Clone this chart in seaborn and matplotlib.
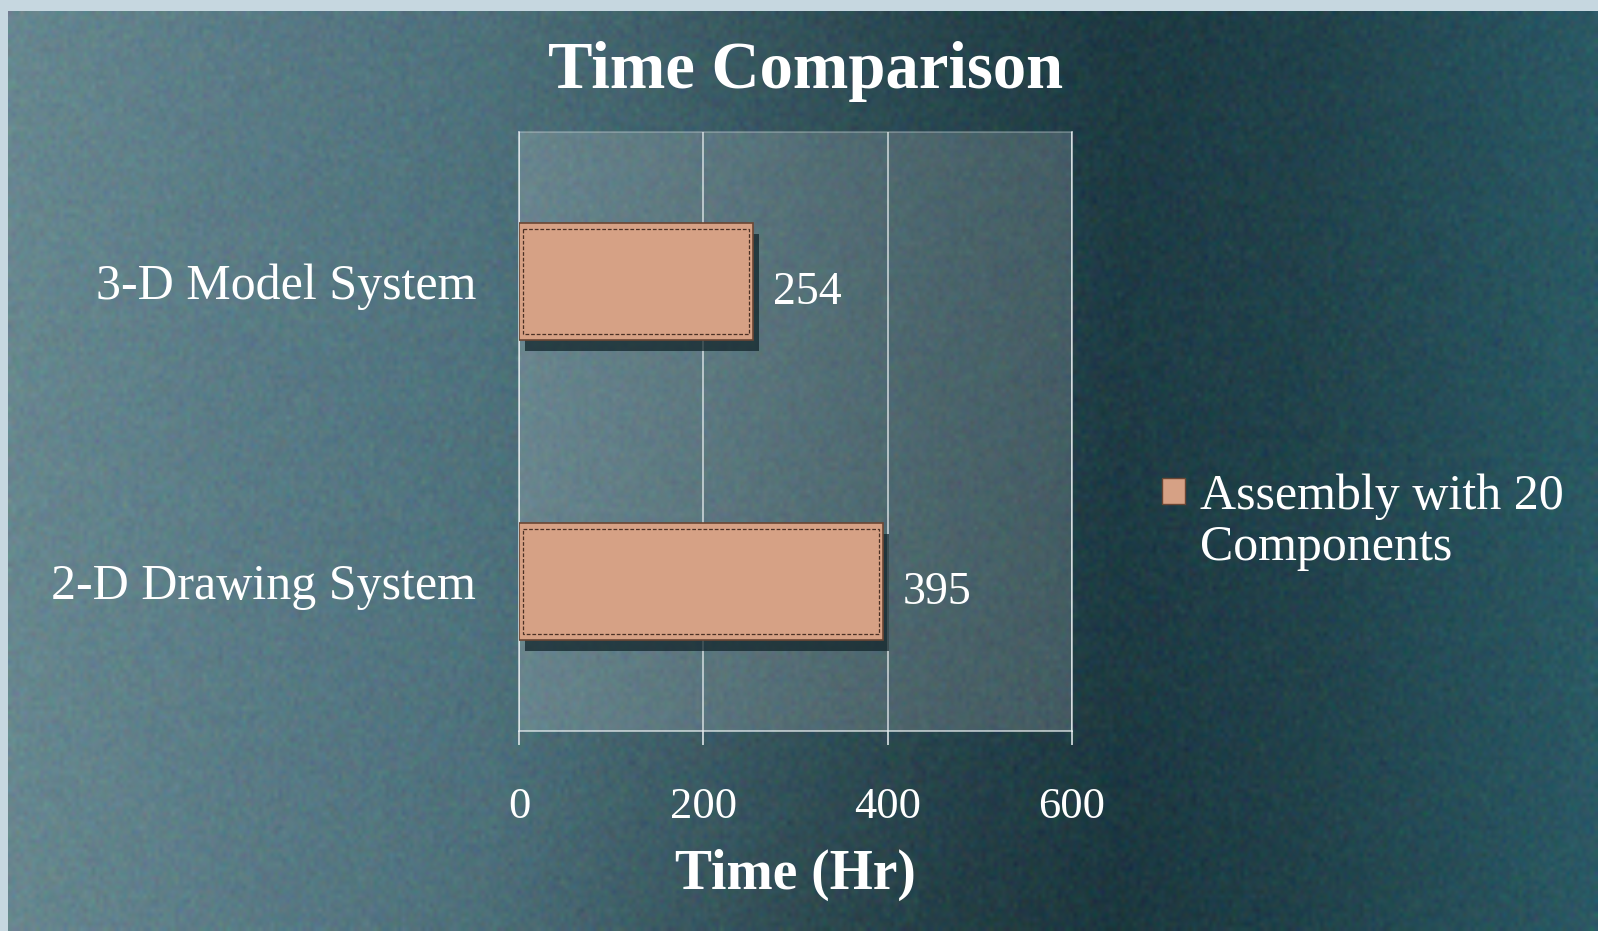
import numpy as np
import pandas as pd
import matplotlib
matplotlib.use("Agg")
import matplotlib.pyplot as plt
import matplotlib.patches as mpatches
import matplotlib.patheffects as pe
from matplotlib.colors import to_rgb
from matplotlib.legend_handler import HandlerPatch
import seaborn as sns

# ---- data ----
categories = ["3-D Model System", "2-D Drawing System"]
hours = [254, 395]
series_name = "Assembly with 20\nComponents"
x_ticks = [0, 200, 400, 600]
title_text = "Time Comparison"
x_label = "Time (Hr)"

df = pd.DataFrame({"System": categories, "Hours": hours})

sns.set_theme(style="white")
plt.rcParams["font.family"] = ["Liberation Serif", "DejaVu Serif"]

W_PX, H_PX = 1598, 931
fig = plt.figure(figsize=(W_PX / 100, H_PX / 100), dpi=100, facecolor="#c6d7e0")

# ---- textured teal background ----
bg = fig.add_axes([8 / W_PX, 0, 1 - 8 / W_PX, 1 - 11 / H_PX], zorder=-10)
GW, GH = 400, 200
gx = np.linspace(0, 1, GW)
gy = np.linspace(0, 1, GH)
stops_x = [0.0, 0.15, 0.30, 0.45, 0.60, 0.70, 0.82, 1.0]
stops_c = ["#67878f", "#5a7b86", "#50737e", "#3f616b", "#2a4a53", "#1f3d46", "#22434c", "#2b5964"]
cols = np.array([to_rgb(c) for c in stops_c])
row = np.stack([np.interp(gx, stops_x, cols[:, k]) for k in range(3)], axis=-1)
img = np.repeat(row[None, :, :], GH, axis=0)
yy, xx = np.meshgrid(gy, gx, indexing="ij")
shade = 1 - 0.18 * np.exp(-((xx - 0.55) ** 2) / 0.04) * (yy ** 2)
shade *= 1 - 0.10 * np.exp(-((xx - 0.55) ** 2) / 0.05) * ((1 - yy) ** 3)
img = img * shade[..., None]
rng = np.random.default_rng(3)
img = np.clip(img + rng.normal(0, 0.018, img.shape), 0, 1)
bg.imshow(img, aspect="auto", extent=[0, 1, 0, 1], interpolation="bilinear")
bg.set_axis_off()

# ---- main axes ----
ax = fig.add_axes([519 / W_PX, 1 - 731 / H_PX, (1072 - 519) / W_PX, (731 - 132) / H_PX])
ax.set_facecolor((1, 1, 1, 0.16))

bar_color = "#d6a185"
sns.barplot(data=df, x="Hours", y="System", orient="h", color=bar_color, saturation=1,
            width=0.39, edgecolor="#6b4634", linewidth=1.2, ax=ax, zorder=3)

for p in ax.patches:
    p.set_path_effects([pe.SimplePatchShadow(offset=(4, -8), shadow_rgbFace="#0f2329", alpha=0.72),
                        pe.Normal()])
    x0, y0, w, h = p.get_x(), p.get_y(), p.get_width(), p.get_height()
    ix, iy = 4.5, 0.02
    ax.add_patch(mpatches.Rectangle((x0 + ix, y0 + iy), w - 2 * ix, h - 2 * iy,
                                    fill=False, edgecolor="#4a3024", linewidth=0.9,
                                    linestyle=(0, (3, 1.5)), zorder=4))

anns = ax.bar_label(ax.containers[0], labels=[str(v) for v in hours], padding=14,
                    color="white", fontsize=33)
for a in anns:
    a.xyann = (a.xyann[0], -8)

ax.set_xlim(x_ticks[0], x_ticks[-1])
ax.set_ylim(1.5, -0.5)
ax.set_xticks(x_ticks)
ax.set_xticklabels([str(t) for t in x_ticks])
ax.grid(axis="x", color="#e8eef0", alpha=0.85, linewidth=1.1, zorder=1)
ax.set_axisbelow(True)
for s in ax.spines.values():
    s.set_color("#e8eef0")
    s.set_alpha(0.85)
    s.set_linewidth(1.1)
ax.spines["top"].set_alpha(0.35)

ax.tick_params(axis="x", which="major", direction="out", length=10, width=1.1,
               color="#e8eef0", pad=30, labelsize=32, labelcolor="white", bottom=True)
ax.tick_params(axis="y", length=0, pad=31, labelsize=36, labelcolor="white")
ax.set_ylabel("")
ax.set_xlabel(x_label, fontsize=40, fontweight="bold", color="white", labelpad=16)

fig.text(806 / W_PX, 1 - 72 / H_PX, title_text, ha="center", va="center",
         fontsize=48, fontweight="bold", color="white")

# ---- legend ----
def top_aligned(legend, orig_handle, xdescent, ydescent, width, height, fontsize):
    return mpatches.Rectangle((-xdescent, -ydescent + 0.62 * fontsize), width, height)

handle = mpatches.Patch(facecolor=bar_color, edgecolor="#6b4634", linewidth=1.0)
leg = fig.legend([handle], [series_name], loc="center left",
                 bbox_to_anchor=(1162 / W_PX, 1 - 522 / H_PX), frameon=False,
                 fontsize=36, handlelength=0.45, handleheight=0.45, handletextpad=0.3,
                 borderpad=0, borderaxespad=0,
                 handler_map={mpatches.Patch: HandlerPatch(patch_func=top_aligned)})
for t in leg.get_texts():
    t.set_color("white")
    t.set_linespacing(1.12)

fig.savefig("out.png", dpi=100, facecolor=fig.get_facecolor())
